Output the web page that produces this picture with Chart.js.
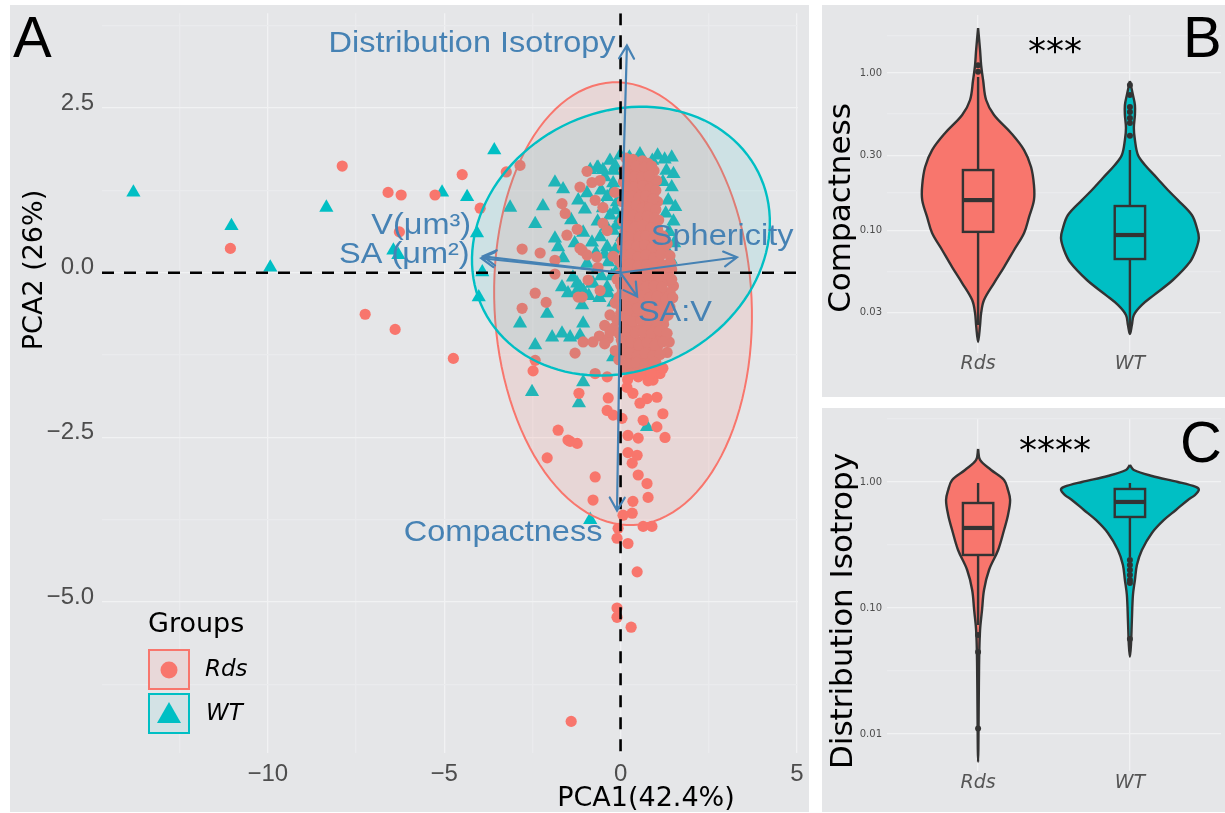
<!DOCTYPE html>
<html>
<head>
<meta charset="utf-8">
<script src="https://cdn.jsdelivr.net/npm/chart.js@4.4.1/dist/chart.umd.min.js"></script>
<style>
  html, body { margin: 0; padding: 0; background: #ffffff; }
  body { width: 1225px; height: 813px; position: relative; overflow: hidden; }
  .panel { position: absolute; background: #E5E6E8; }
  #pa { left: 10px; top: 5px; width: 799px; height: 807px; }
  #pb { left: 822px; top: 5px; width: 403px; height: 392px; }
  #pc { left: 822px; top: 408px; width: 403px; height: 404px; }
  canvas { display: block; }
</style>
</head>
<body>
<div class="panel" id="pa"><canvas id="ca" width="799" height="807"></canvas></div>
<div class="panel" id="pb"><canvas id="cb" width="403" height="392"></canvas></div>
<div class="panel" id="pc"><canvas id="cc" width="403" height="404"></canvas></div>
<script>
// ---------------- Panel A: PCA biplot ----------------
const groups = ['Rds', 'WT'];

// PCA scores, Rds nuclei
const rdsPoints = [
  [-11.06,0.37],[-7.89,1.62],[-6.59,1.22],[-6.22,1.18],[-6.27,0.62],[-5.26,1.18],[-4.49,1.49],[-3.98,0.98],
  [-7.24,-0.63],[-6.39,-0.86],[-4.74,-1.30],
  [-2.85,1.63],[-3.24,1.53],[-2.79,0.36],[-2.28,0.30],[-1.86,0.19],[-1.86,-0.02],[-2.42,-0.31],[-1.20,-0.37],[-0.58,-0.27],
  [-0.95,1.54],[-1.15,1.30],[-0.81,1.37],[-0.58,1.40],[-0.72,1.10],[-1.66,1.05],[-1.57,0.90],[-0.50,0.99],[-1.23,0.66],
  [-1.52,0.57],[-1.09,0.34],[-0.95,0.27],[-0.67,0.24],[-0.21,0.25],[-0.50,0.75],[-0.38,0.64],[-0.16,1.22],[-1.15,0.37],
  [-0.64,0.08],[-0.92,-0.11],
  [-2.79,-0.54],[-2.11,-0.45],[-1.09,-0.37],[-1.29,-1.22],[-2.42,-1.33],[-2.48,-1.49],[-1.18,-1.83],[-1.06,-1.05],
  [-0.78,-1.05],[-0.72,-1.53],[-0.38,-1.58],[-0.35,-1.90],[-0.38,-2.09],[-0.21,-2.16],[0.04,-2.21],[-1.77,-2.39],
  [-1.49,-2.54],[-1.23,-2.59],[0.21,-2.47],[0.50,-2.51],[1.03,-2.34],[1.20,-2.14],[1.26,-2.50],[0.64,-2.24],[1.03,-1.89],
  [0.75,-1.91],[0.55,-1.98],[0.35,-1.83],[0.18,-1.74],[1.12,-1.53],[0.92,-1.63],[1.20,-1.45],[1.32,-1.21],[1.40,-0.31],
  [-1.43,-2.56],[-2.08,-2.81],[-0.72,-3.10],[-0.78,-3.45],[0.21,-2.73],[0.47,-2.77],[0.33,-2.89],[0.50,-3.07],[0.75,-3.20],
  [0.78,-3.41],[0.35,-3.47],[0.33,-3.65],[0.07,-3.68],[0.64,-3.85],[0.89,-3.85],[-0.07,-3.88],[-0.10,-4.03],[0.21,-4.11],
  [0.47,-4.54],[-0.10,-5.09],[-0.10,-5.23],[0.30,-5.38],[-1.40,-6.81],
  [0.15,1.74],[0.35,1.72],[0.62,1.70],[0.78,1.66],
  [0.10,1.55],[0.28,1.58],[0.52,1.52],[0.70,1.50],[0.95,1.55],
  [0.08,1.38],[0.25,1.42],[0.44,1.36],[0.62,1.40],[0.85,1.35],[1.02,1.40],
  [0.12,1.22],[0.32,1.26],[0.55,1.20],[0.74,1.24],[0.93,1.18],
  [0.05,1.08],[0.22,1.12],[0.42,1.05],[0.63,1.10],[0.82,1.04],[1.05,1.08],
  [0.15,0.92],[0.35,0.96],[0.52,0.90],[0.72,0.94],[0.90,0.88],
  [0.06,0.78],[0.26,0.82],[0.46,0.76],[0.66,0.80],[0.86,0.74],[1.08,0.80],
  [0.12,0.62],[0.32,0.66],[0.55,0.60],[0.75,0.64],[0.98,0.58],
  [0.04,0.48],[0.22,0.52],[0.42,0.46],[0.62,0.50],[0.84,0.44],[1.12,0.50],
  [0.14,0.32],[0.34,0.36],[0.56,0.30],[0.78,0.34],[1.00,0.28],[1.22,0.36],
  [-0.05,0.18],[0.20,0.22],[0.40,0.16],[0.62,0.20],[0.86,0.14],[1.08,0.20],[1.30,0.12],
  [0.08,0.04],[0.30,0.06],[0.52,0.00],[0.74,0.04],[0.96,-0.02],[1.20,0.02],[1.45,0.05],
  [-0.10,-0.10],[0.15,-0.12],[0.38,-0.08],[0.60,-0.14],[0.82,-0.10],[1.05,-0.16],[1.30,-0.12],[1.50,-0.20],
  [0.05,-0.28],[0.25,-0.32],[0.48,-0.26],[0.70,-0.34],[0.92,-0.28],[1.15,-0.32],[1.40,-0.30],
  [-0.15,-0.46],[0.12,-0.44],[0.35,-0.50],[0.58,-0.42],[0.80,-0.48],[1.02,-0.44],[1.25,-0.50],
  [-0.30,-0.64],[0.00,-0.62],[0.22,-0.68],[0.45,-0.62],[0.68,-0.66],[0.90,-0.60],[1.12,-0.70],[1.35,-0.64],
  [-0.45,-0.80],[-0.20,-0.84],[0.10,-0.78],[0.32,-0.82],[0.55,-0.86],[0.78,-0.80],[1.00,-0.84],[1.22,-0.78],
  [-0.60,-0.96],[-0.35,-1.00],[0.02,-1.02],[0.25,-0.96],[0.48,-1.04],[0.70,-0.98],[0.92,-1.02],[1.15,-0.96],[1.38,-1.05],
  [-0.15,-1.18],[0.15,-1.14],[0.40,-1.20],[0.62,-1.12],[0.85,-1.18],[1.05,-1.12],
  [-0.05,-1.32],[0.30,-1.28],[0.55,-1.34],[0.78,-1.30],[1.00,-1.36],
  [0.10,-1.46],[0.40,-1.42],[0.65,-1.48],[0.90,-1.44],
  [0.20,-1.62],[0.50,-1.58],[0.78,-1.64],
  [0.22,1.64],[0.45,1.62],[0.68,1.60],[0.88,1.62],
  [0.18,1.47],[0.40,1.46],[0.60,1.45],[0.80,1.47],
  [0.16,1.31],[0.38,1.30],[0.64,1.32],[0.84,1.28],[1.00,1.25],
  [0.14,1.15],[0.32,1.16],[0.52,1.14],[0.72,1.17],[0.92,1.12],
  [0.25,1.00],[0.45,1.02],[0.62,0.98],[0.82,0.99],[1.00,0.96],
  [0.16,0.86],[0.36,0.87],[0.56,0.84],[0.76,0.86],[0.97,0.83],
  [0.20,0.71],[0.42,0.70],[0.62,0.72],[0.86,0.68],[1.05,0.66],
  [0.12,0.55],[0.32,0.57],[0.52,0.54],[0.72,0.56],[0.95,0.52],[1.20,0.56],
  [0.05,0.40],[0.26,0.42],[0.46,0.40],[0.68,0.42],[0.90,0.38],[1.12,0.41],[1.32,0.44],
  [0.10,0.27],[0.30,0.28],[0.50,0.24],[0.72,0.27],[0.94,0.22],[1.15,0.28],[1.40,0.26],
  [0.04,0.12],[0.25,0.13],[0.50,0.10],[0.74,0.12],[0.98,0.08],[1.20,0.10],[1.42,0.14],
  [-0.02,-0.02],[0.20,-0.03],[0.42,-0.02],[0.64,-0.05],[0.86,-0.04],[1.08,-0.06],[1.32,-0.02],
  [0.00,-0.19],[0.26,-0.20],[0.50,-0.18],[0.72,-0.22],[0.95,-0.20],[1.18,-0.22],[1.45,-0.10],
  [-0.05,-0.37],[0.18,-0.36],[0.38,-0.38],[0.60,-0.35],[0.82,-0.38],[1.04,-0.36],[1.28,-0.40],[1.48,-0.38],
  [0.02,-0.54],[0.24,-0.56],[0.48,-0.54],[0.70,-0.55],[0.92,-0.53],[1.15,-0.57],[1.40,-0.52],
  [-0.10,-0.72],[0.12,-0.70],[0.35,-0.74],[0.58,-0.72],[0.80,-0.72],[1.02,-0.74],[1.25,-0.68],
  [-0.30,-0.90],[-0.05,-0.92],[0.20,-0.88],[0.42,-0.92],[0.65,-0.90],[0.88,-0.92],[1.10,-0.88],[1.32,-0.92],
  [-0.45,-1.08],[0.05,-1.08],[0.30,-1.06],[0.52,-1.10],[0.75,-1.06],[0.98,-1.10],[1.20,-1.05],
  [0.05,-1.24],[0.25,-1.22],[0.48,-1.26],[0.70,-1.22],[0.92,-1.26],[1.12,-1.24],
  [0.20,-1.38],[0.45,-1.36],[0.70,-1.40],[0.95,-1.36],
  [0.30,-1.53],[0.58,-1.54],[0.85,-1.52]
];

// PCA scores, WT nuclei
const wtPoints = [
  [-13.81,1.22],[-11.03,0.71],[-9.93,0.08],[-8.34,0.99],[-5.06,1.22],[-4.35,1.15],[-6.44,0.34],[-6.30,0.27],
  [-4.07,0.60],[-3.92,0.01],[-4.02,-0.37],[-3.58,1.86],[-3.13,0.99],[-2.42,0.74],[-2.20,1.01],[-1.86,1.37],[-1.63,1.27],
  [-0.67,1.59],[-0.50,1.56],[-0.95,1.21],[-1.01,0.96],[-1.86,0.52],[-1.77,0.39],[-1.06,0.61],[-0.81,0.46],[-1.63,0.22],
  [-0.38,0.39],[-0.01,1.78],[-1.23,-0.16],[-1.35,-0.07],[-0.95,0.14],[-1.49,-0.31],[-1.66,-0.22],[-0.86,1.56],
  [-2.85,-0.77],[-2.08,-0.62],[-2.42,-1.10],[-1.94,-0.98],[-1.66,-0.92],[-1.43,-0.98],[-1.06,-0.77],[-1.15,-0.95],
  [-1.09,-0.49],[-1.23,-0.27],[-2.51,-1.81],[-1.06,-1.66],[-1.18,-1.98],[0.75,-2.34],[-0.86,-3.75],
  [-0.64,1.60],[-0.21,1.36],[-0.38,1.15],[-0.10,1.07],[-0.30,0.87],[-0.01,0.83],[-0.21,0.64],[0.04,0.54],[0.21,0.49],
  [-0.58,0.54],[-0.35,0.16],[-0.10,0.04],[-0.67,0.04],[-0.81,-0.16],[-0.38,-0.22],[-1.06,-0.27],[-1.15,-0.22],
  [-0.78,-0.16],[-0.35,-0.31],[-0.21,-1.28],
  [1.05,1.78],[1.25,1.72],[1.45,1.75],[0.90,1.70],[1.30,1.55],[1.50,1.50],[1.20,1.38],[1.45,1.30],[1.35,1.10],
  [1.55,1.00],[1.28,0.90],[1.50,0.78],[1.38,0.62],[1.52,0.45],[1.30,0.35],[1.42,0.20],
  [0.25,1.75],[0.55,1.80],[0.75,1.62],
  [-0.45,1.45],[-0.20,1.55],[-0.55,1.25],[-0.25,1.22],[-0.50,0.98],[-0.15,0.95],[-0.65,0.78],[-0.40,0.70],
  [-0.10,0.72],[-0.70,0.30],[-0.45,0.28],[-0.15,0.35],[-0.55,-0.05],[-0.25,-0.05],[-0.90,-0.35],[-0.60,-0.38],
  [-0.20,-0.45],[-1.30,0.45],[-1.40,0.80],[-1.20,1.10],[-0.30,1.70],[-0.15,1.62]
];

// 95% normal ellipses: centre, then two conjugate semi-axis vectors (data units)
const rdsEllipse = [0.07, -0.47, 0.299, -3.360, 3.642, 0.093];
const wtEllipse  = [0.01,  0.48, 3.887,  1.052, 1.649, -1.748];

// variable loadings (arrow tips) and their label anchors
const loadingNames = ['Distribution Isotropy', 'Sphericity', 'V(\u03BCm\u00B3)', 'SA (\u03BCm\u00B2)', 'SA:V', 'Compactness'];
const loadingX = [0.18, 3.30, -3.90, -3.95, 0.47, -0.10];
const loadingY = [3.45, 0.235, 0.25, 0.22, -0.36, -3.61];
const labelX   = [-4.21, 2.88, -5.65, -6.13, 1.54, -3.33];
const labelY   = [3.47, 0.54, 0.71, 0.27, -0.61, -3.95];

const xGrid = [-12.5, -10, -7.5, -5, -2.5, 0, 2.5, 5];
const yGrid = [-6.25, -5, -3.75, -2.5, -1.25, 0, 1.25, 2.5, 3.75];

// ---------------- Panels B and C: violin + box plots ----------------
const violinCategories = ['Rds', 'WT'];

// Compactness: violin outline (value level, half width in category units)
const compRdsLevels = [1.931,1.40,1.124,0.903,0.674,0.541,0.416,0.324,0.253,0.194,0.156,0.122,0.0964,0.0752,0.0586,0.0464,0.0362,0.0299,0.0251,0.0196];
const compRdsHalf   = [0,0.013,0.02,0.033,0.053,0.105,0.217,0.303,0.349,0.368,0.368,0.336,0.303,0.237,0.171,0.105,0.039,0.02,0.013,0];
const compWtLevels  = [0.890,0.725,0.626,0.541,0.448,0.3755,0.3015,0.2606,0.2154,0.1808,0.156,0.1254,0.1037,0.0897,0.0752,0.0631,0.0485,0.0389,0.0337,0.0291,0.0251,0.022];
const compWtHalf    = [0,0.02,0.033,0.033,0.026,0.033,0.053,0.099,0.178,0.25,0.316,0.408,0.441,0.454,0.434,0.395,0.283,0.158,0.079,0.026,0.013,0];
// box stats: lower whisker, Q1, median, Q3, upper whisker
const compRdsBox = [0.0251, 0.098, 0.156, 0.242, 0.943];
const compWtBox  = [0.0223, 0.0659, 0.0936, 0.143, 0.3245];
const compRdsOutliers = [1.12, 1.02];
const compWtOutliers  = [0.839, 0.725, 0.608, 0.565, 0.518, 0.481, 0.40];
const compMajor = [0.03, 0.1, 0.3, 1];
const compMinor = [0.0548, 0.173, 0.548, 1.732];

// Distribution isotropy
const isoRdsLevels = [1.827,1.495,1.245,1.037,0.864,0.72,0.547,0.416,0.2886,0.2002,0.139,0.0964,0.0669,0.0387,0.006];
const isoRdsHalf   = [0,0.013,0.086,0.171,0.197,0.211,0.197,0.171,0.132,0.072,0.039,0.026,0.013,0.007,0];
const isoWtLevels  = [1.364,1.245,1.116,1.0,0.913,0.864,0.788,0.720,0.5995,0.4994,0.3938,0.2886,0.2195,0.1668,0.1268,0.0803,0.0508,0.0409];
const isoWtHalf    = [0,0.026,0.145,0.316,0.434,0.454,0.428,0.382,0.303,0.224,0.145,0.079,0.046,0.033,0.02,0.013,0.007,0];
const isoRdsBox = [0.0733, 0.2634, 0.4315, 0.681, 0.982];
const isoWtBox  = [0.254, 0.5275, 0.694, 0.880, 0.982];
const isoRdsOutliers = [0.061, 0.0447, 0.01105];
const isoWtOutliers  = [0.2404, 0.2194, 0.2002, 0.1828, 0.1668, 0.158, 0.0568];
const isoMajor = [0.01, 0.1, 1];
const isoMinor = [0.0316, 0.316, 3.16];

// ---------------- shared styling ----------------
const RDS = '#F8766D', WT = '#00BFC4', LOAD = '#4682B4';
const GRID_MAJOR = '#F1F2F3', GRID_MINOR = '#EAEBED';
const TICK = '#4D4D4D', OUTLINE = '#333333';
Chart.defaults.font.family = 'DejaVu Sans';

const near = (a, b) => Math.abs(a - b) < 1e-9 * Math.max(1, Math.abs(b));
const minusFmt = s => s.replace('-', '\u2212');

function arrow(ctx, x0, y0, x1, y1) {
  const ang = Math.atan2(y1 - y0, x1 - x0), L = 15, w = Math.PI / 6;
  ctx.beginPath();
  ctx.moveTo(x0, y0); ctx.lineTo(x1, y1);
  ctx.moveTo(x1 - L * Math.cos(ang - w), y1 - L * Math.sin(ang - w));
  ctx.lineTo(x1, y1);
  ctx.lineTo(x1 - L * Math.cos(ang + w), y1 - L * Math.sin(ang + w));
  ctx.stroke();
}

function ellipsePath(chart, e) {
  const xs = chart.scales.x, ys = chart.scales.y, ctx = chart.ctx;
  ctx.beginPath();
  for (let k = 0; k <= 120; k++) {
    const t = 2 * Math.PI * k / 120;
    const px = xs.getPixelForValue(e[0] + e[2] * Math.cos(t) + e[4] * Math.sin(t));
    const py = ys.getPixelForValue(e[1] + e[3] * Math.cos(t) + e[5] * Math.sin(t));
    if (k === 0) ctx.moveTo(px, py); else ctx.lineTo(px, py);
  }
  ctx.closePath();
}

// keep the plotting region fixed: no extra room reserved for edge labels
const noEdgePadding = s => { s.paddingTop = 0; s.paddingBottom = 0; s.paddingLeft = 0; s.paddingRight = 0; };

const biplotLayer = {
  id: 'biplotLayer',
  afterDatasetsDraw(chart) {
    const ctx = chart.ctx, a = chart.chartArea, xs = chart.scales.x, ys = chart.scales.y;
    ctx.save();
    ctx.beginPath(); ctx.rect(a.left, a.top, a.right - a.left, a.bottom - a.top); ctx.clip();
    // group ellipses
    ellipsePath(chart, rdsEllipse);
    ctx.fillStyle = 'rgba(248,118,109,0.14)'; ctx.fill();
    ctx.strokeStyle = RDS; ctx.lineWidth = 2; ctx.stroke();
    ellipsePath(chart, wtEllipse);
    ctx.fillStyle = 'rgba(0,191,196,0.10)'; ctx.fill();
    ctx.strokeStyle = WT; ctx.lineWidth = 2.4; ctx.stroke();
    // zero reference lines
    ctx.setLineDash([12, 10]);
    ctx.strokeStyle = '#000'; ctx.lineWidth = 2.6;
    const y0 = ys.getPixelForValue(0), x0 = xs.getPixelForValue(0);
    ctx.beginPath(); ctx.moveTo(a.left, y0); ctx.lineTo(a.right, y0); ctx.stroke();
    ctx.beginPath(); ctx.moveTo(x0, a.top); ctx.lineTo(x0, a.bottom); ctx.stroke();
    ctx.setLineDash([]);
    ctx.restore();
    // loading arrows
    ctx.save();
    ctx.strokeStyle = LOAD; ctx.lineWidth = 2.2; ctx.lineCap = 'round';
    for (let i = 0; i < loadingNames.length; i++) {
      arrow(ctx, x0, y0, xs.getPixelForValue(loadingX[i]), ys.getPixelForValue(loadingY[i]));
    }
    ctx.fillStyle = LOAD;
    ctx.font = '29px "Liberation Sans"';
    ctx.textAlign = 'center'; ctx.textBaseline = 'middle';
    for (let i = 0; i < loadingNames.length; i++) {
      ctx.save();
      ctx.translate(xs.getPixelForValue(labelX[i]), ys.getPixelForValue(labelY[i]));
      ctx.scale(1.12, 1);
      ctx.fillText(loadingNames[i], 0, 0);
      ctx.restore();
    }
    ctx.restore();
  },
  afterDraw(chart) {
    const ctx = chart.ctx;
    ctx.save();
    ctx.fillStyle = '#000';
    // panel letter
    ctx.font = '58px "Liberation Sans"';
    ctx.textAlign = 'left'; ctx.textBaseline = 'alphabetic';
    ctx.fillText('A', 3, 52);
    // axis titles
    ctx.font = '27px "DejaVu Sans"';
    ctx.textAlign = 'center';
    ctx.fillText('PCA1(42.4%)', 636, 801);
    ctx.save();
    ctx.translate(32, 265); ctx.rotate(-Math.PI / 2);
    ctx.fillText('PCA2 (26%)', 0, 0);
    ctx.restore();
    // legend
    ctx.textAlign = 'left';
    ctx.fillText('Groups', 138, 627);
    ctx.lineWidth = 2;
    ctx.fillStyle = '#E8D8D9'; ctx.fillRect(138, 644, 42, 41);
    ctx.strokeStyle = RDS; ctx.strokeRect(139, 645, 40, 39);
    ctx.fillStyle = '#D3E2E5'; ctx.fillRect(138, 688, 42, 41);
    ctx.strokeStyle = WT; ctx.strokeRect(139, 689, 40, 39);
    ctx.fillStyle = RDS;
    ctx.beginPath(); ctx.arc(159, 665, 8.5, 0, 2 * Math.PI); ctx.fill();
    ctx.fillStyle = WT;
    ctx.beginPath(); ctx.moveTo(159, 697); ctx.lineTo(171, 718); ctx.lineTo(147, 718); ctx.closePath(); ctx.fill();
    ctx.fillStyle = '#000';
    ctx.font = 'italic 23px "DejaVu Sans"';
    ctx.textBaseline = 'middle';
    ctx.fillText(groups[0], 195, 665);
    ctx.fillText(groups[1], 196, 709);
    ctx.restore();
  }
};

new Chart(document.getElementById('ca'), {
  type: 'scatter',
  data: {
    datasets: [
      { label: groups[0], data: rdsPoints.map(([x, y]) => ({ x, y })), pointStyle: 'circle', pointRadius: 5.6,
        pointBackgroundColor: RDS, pointBorderWidth: 0, pointBorderColor: RDS },
      { label: groups[1], data: wtPoints.map(([x, y]) => ({ x, y })), pointStyle: 'triangle', pointRadius: 8.2,
        pointBackgroundColor: WT, pointBorderWidth: 0, pointBorderColor: WT }
    ]
  },
  options: {
    responsive: false, animation: false, devicePixelRatio: 1, events: [],
    layout: { padding: { top: 8, right: 11, left: 0, bottom: 0 } },
    plugins: { legend: { display: false }, tooltip: { enabled: false } },
    scales: {
      x: {
        type: 'linear', min: -14.7, max: 5.03,
        afterBuildTicks: s => { s.ticks = xGrid.map(v => ({ value: v })); },
        afterFit: s => { s.height = 59; noEdgePadding(s); },
        grid: { drawTicks: false, lineWidth: 1.3,
          color: c => (c.tick && near(c.tick.value / 5, Math.round(c.tick.value / 5))) ? GRID_MAJOR : GRID_MINOR },
        border: { display: false },
        ticks: { autoSkip: false, maxRotation: 0, padding: 7, color: TICK,
          font: { family: 'Liberation Sans', size: 24 },
          callback: v => near(v / 5, Math.round(v / 5)) ? minusFmt(String(v)) : '' }
      },
      y: {
        type: 'linear', min: -7.29, max: 3.94,
        afterBuildTicks: s => { s.ticks = yGrid.map(v => ({ value: v })); },
        afterFit: s => { s.width = 92; noEdgePadding(s); },
        grid: { drawTicks: false, lineWidth: 1.3,
          color: c => (c.tick && near(c.tick.value / 2.5, Math.round(c.tick.value / 2.5))) ? GRID_MAJOR : GRID_MINOR },
        border: { display: false },
        ticks: { autoSkip: false, padding: 8, labelOffset: -5, color: TICK,
          font: { family: 'Liberation Sans', size: 24 },
          callback: v => near(v / 2.5, Math.round(v / 2.5)) ? minusFmt(v.toFixed(1)) : '' }
      }
    }
  },
  plugins: [biplotLayer]
});

// ---------------- violin panels ----------------
function violinOutline(center, levels, half) {
  const pts = [];
  for (let i = 0; i < levels.length; i++) pts.push({ x: center + half[i], y: levels[i] });
  for (let i = levels.length - 2; i >= 0; i--) pts.push({ x: center - half[i], y: levels[i] });
  return pts;
}

function makeViolinPanel(cfg) {
  const boxLayer = {
    id: 'boxLayer',
    afterDatasetsDraw(chart) {
      const ctx = chart.ctx, xs = chart.scales.x, ys = chart.scales.y;
      ctx.save();
      [cfg.rdsBox, cfg.wtBox].forEach((b, i) => {
        const cx = xs.getPixelForValue(i + 1);
        const hw = xs.getPixelForValue(i + 1.1) - cx;
        const [lo, q1, med, q3, hi] = b.map(v => ys.getPixelForValue(v));
        ctx.strokeStyle = OUTLINE; ctx.lineWidth = 2.4;
        ctx.beginPath(); ctx.moveTo(cx, hi); ctx.lineTo(cx, q3); ctx.moveTo(cx, q1); ctx.lineTo(cx, lo); ctx.stroke();
        ctx.fillStyle = i === 0 ? RDS : WT;
        ctx.fillRect(cx - hw, q3, 2 * hw, q1 - q3);
        ctx.strokeRect(cx - hw, q3, 2 * hw, q1 - q3);
        ctx.lineWidth = 4.2;
        ctx.beginPath(); ctx.moveTo(cx - hw, med); ctx.lineTo(cx + hw, med); ctx.stroke();
        ctx.fillStyle = OUTLINE;
        (i === 0 ? cfg.rdsOut : cfg.wtOut).forEach(v => {
          ctx.beginPath(); ctx.arc(cx, ys.getPixelForValue(v), 3, 0, 2 * Math.PI); ctx.fill();
        });
      });
      ctx.restore();
    },
    afterDraw(chart) {
      const ctx = chart.ctx;
      ctx.save();
      ctx.fillStyle = '#000';
      ctx.font = '58px "Liberation Sans"';
      ctx.textAlign = 'left'; ctx.textBaseline = 'alphabetic';
      ctx.fillText(cfg.letter, cfg.letterX, cfg.letterY);
      ctx.font = '36px "DejaVu Sans"';
      ctx.textAlign = 'center';
      ctx.fillText(cfg.stars, 233, cfg.starsY);
      ctx.font = '31px "DejaVu Sans"';
      ctx.save();
      ctx.translate(cfg.titleX, cfg.titleY); ctx.rotate(-Math.PI / 2);
      ctx.fillText(cfg.title, 0, 0);
      ctx.restore();
      ctx.restore();
    }
  };
  const majors = cfg.major, all = cfg.major.concat(cfg.minor).sort((a, b) => a - b);
  const isMajor = v => majors.some(m => near(v, m));
  return new Chart(document.getElementById(cfg.canvas), {
    type: 'line',
    data: {
      datasets: [
        { data: violinOutline(1, cfg.rdsLevels, cfg.rdsHalf), backgroundColor: RDS, borderColor: OUTLINE },
        { data: violinOutline(2, cfg.wtLevels, cfg.wtHalf), backgroundColor: WT, borderColor: OUTLINE }
      ].map(d => Object.assign(d, { fill: 'shape', borderWidth: 2.4, pointRadius: 0, tension: 0.35, borderJoinStyle: 'round' }))
    },
    options: {
      responsive: false, animation: false, devicePixelRatio: 1, events: [],
      layout: { padding: { top: 10, right: 4, left: 0, bottom: 0 } },
      plugins: { legend: { display: false }, tooltip: { enabled: false } },
      scales: {
        x: {
          type: 'linear', min: 0.4, max: 2.6,
          afterBuildTicks: s => { s.ticks = [{ value: 1 }, { value: 2 }]; },
          afterFit: s => { s.height = cfg.xHeight; noEdgePadding(s); },
          grid: { drawTicks: false, color: GRID_MAJOR, lineWidth: 1.3 },
          border: { display: false },
          ticks: { padding: cfg.xPad, color: '#555555', font: { size: 19, style: 'italic' },
            callback: v => violinCategories[Math.round(v) - 1] }
        },
        y: {
          type: 'logarithmic', min: cfg.yMin, max: cfg.yMax,
          afterBuildTicks: s => { s.ticks = all.filter(v => v >= cfg.yMin && v <= cfg.yMax).map(v => ({ value: v })); },
          afterFit: s => { s.width = 65; noEdgePadding(s); },
          grid: { drawTicks: false, lineWidth: 1.3, color: c => (c.tick && isMajor(c.tick.value)) ? GRID_MAJOR : GRID_MINOR },
          border: { display: false },
          ticks: { autoSkip: false, padding: 5, color: TICK, font: { size: 10 },
            callback: v => isMajor(v) ? v.toFixed(2) : '' }
        }
      }
    },
    plugins: [boxLayer]
  });
}

makeViolinPanel({
  canvas: 'cb', yMin: 0.01668, yMax: 2.335, major: compMajor, minor: compMinor,
  rdsLevels: compRdsLevels, rdsHalf: compRdsHalf, wtLevels: compWtLevels, wtHalf: compWtHalf,
  rdsBox: compRdsBox, wtBox: compWtBox, rdsOut: compRdsOutliers, wtOut: compWtOutliers,
  title: 'Compactness', titleX: 28, titleY: 203, stars: '***', starsY: 58,
  letter: 'B', letterX: 361, letterY: 52, xHeight: 44, xPad: 0
});

makeViolinPanel({
  canvas: 'cc', yMin: 0.00508, yMax: 3.22, major: isoMajor, minor: isoMinor,
  rdsLevels: isoRdsLevels, rdsHalf: isoRdsHalf, wtLevels: isoWtLevels, wtHalf: isoWtHalf,
  rdsBox: isoRdsBox, wtBox: isoWtBox, rdsOut: isoRdsOutliers, wtOut: isoWtOutliers,
  title: 'Distribution Isotropy', titleX: 30, titleY: 203, stars: '****', starsY: 54,
  letter: 'C', letterX: 358, letterY: 54, xHeight: 41, xPad: 1
});
</script>
</body>
</html>
